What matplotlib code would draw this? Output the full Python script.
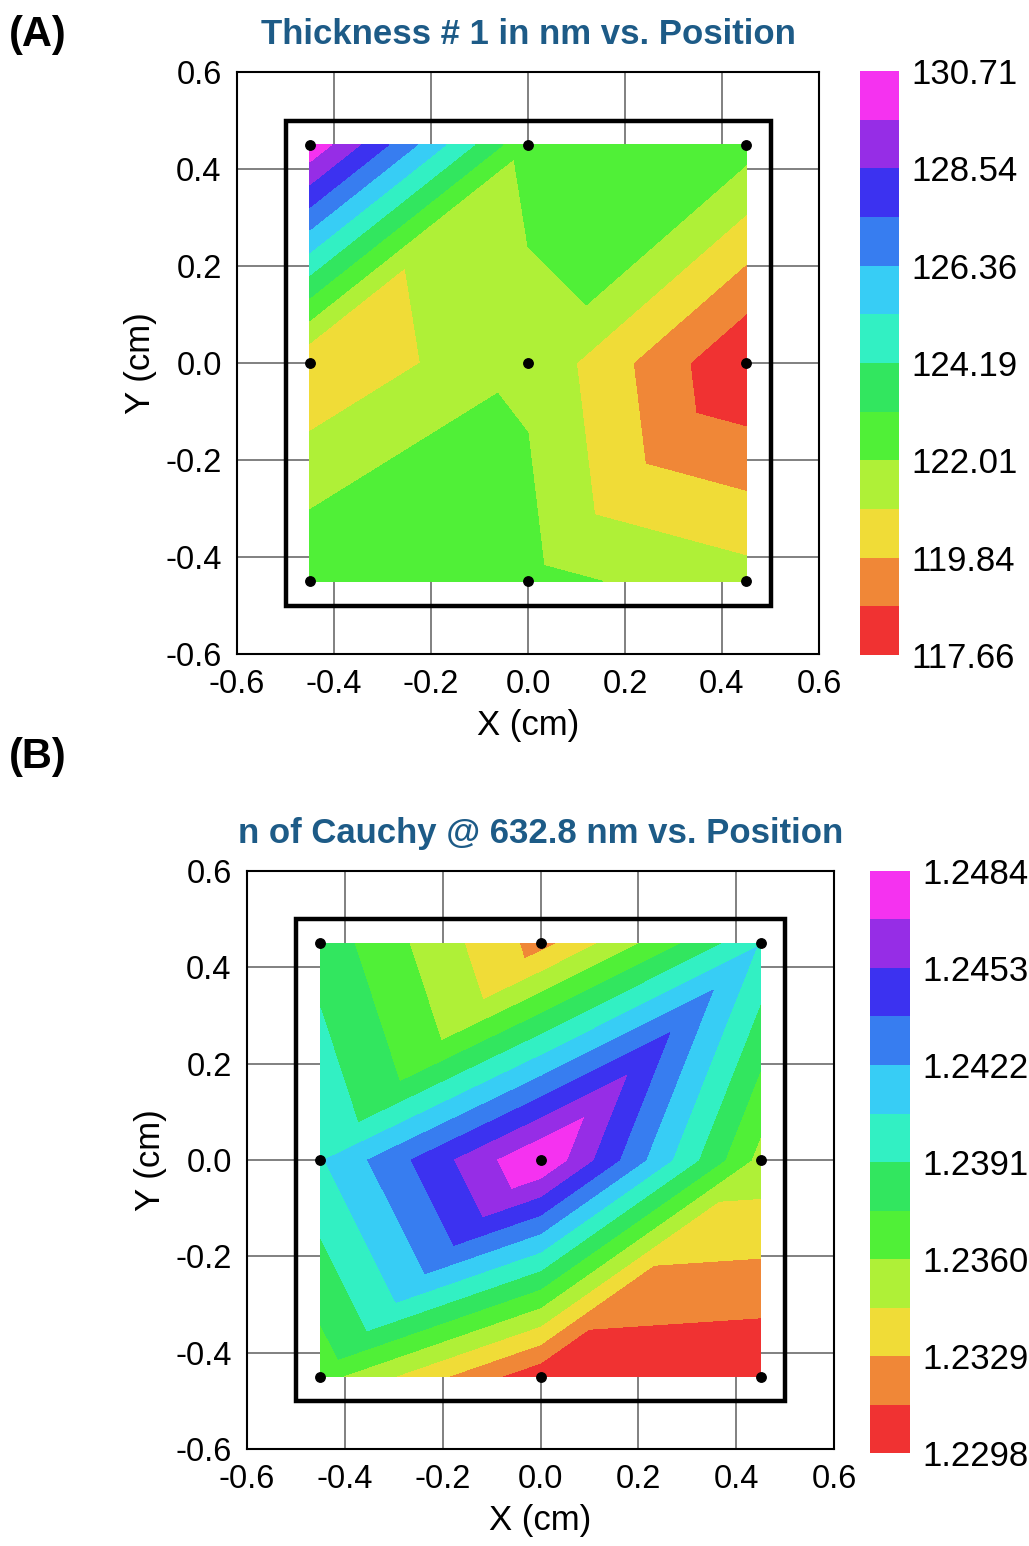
import numpy as np
import matplotlib
matplotlib.use('Agg')
import matplotlib.pyplot as plt
import matplotlib.tri as mtri
from matplotlib.colors import ListedColormap, BoundaryNorm
from matplotlib.patches import Rectangle

plt.rcParams['font.family'] = ['Liberation Sans', 'DejaVu Sans']

# measurement points (3x3 map), rows listed top to bottom
x_pts = [-0.45, 0.0, 0.45, -0.45, 0.0, 0.45, -0.45, 0.0, 0.45]
y_pts = [0.45, 0.45, 0.45, 0.0, 0.0, 0.0, -0.45, -0.45, -0.45]

# thickness #1 (nm) at each point
thickness = [130.45, 122.15, 122.45,
             119.97, 121.85, 117.67,
             123.00, 122.35, 121.35]

# n of Cauchy @ 632.8 nm at each point
n_cauchy = [1.2385, 1.2323, 1.2405,
            1.2405, 1.24838, 1.23545,
            1.2366, 1.2302, 1.22982]

thick_range = (117.66, 130.71)
thick_ticks = ['117.66', '119.84', '122.01', '124.19', '126.36', '128.54', '130.71']
n_range = (1.2298, 1.2484)
n_ticks = ['1.2298', '1.2329', '1.2360', '1.2391', '1.2422', '1.2453', '1.2484']

band_colors = ['#F03232', '#F08737', '#F0DC37', '#AFF037', '#50F037', '#32E65F',
               '#32F0C3', '#37CDF5', '#377DF0', '#3C32F0', '#962DE6', '#F532F0']

# triangulation of the 3x3 grid as used by the mapping software
triangles = [[0, 1, 3], [1, 4, 3], [1, 2, 4], [2, 5, 4],
             [3, 4, 6], [4, 7, 6], [4, 5, 7], [5, 8, 7]]

W, H = 1029, 1546
fig = plt.figure(figsize=(W / 100, H / 100), dpi=100)


def box(l, t, r, b):
    return [l / W, 1 - b / H, (r - l) / W, (b - t) / H]


def draw_map(ax_box, cax_box, z, zrange, tick_labels, title):
    ax = fig.add_axes(box(*ax_box))
    cax = fig.add_axes(box(*cax_box))
    levels = np.linspace(zrange[0], zrange[1], len(band_colors) + 1)
    cmap = ListedColormap(band_colors)
    norm = BoundaryNorm(levels, cmap.N)
    tri = mtri.Triangulation(x_pts, y_pts, triangles)
    cf = ax.tricontourf(tri, z, levels=levels, cmap=cmap, norm=norm, zorder=2)
    ax.add_patch(Rectangle((-0.5, -0.5), 1.0, 1.0, fill=False, lw=3.2,
                           edgecolor='black', zorder=4))
    ax.plot(x_pts, y_pts, 'o', color='black', ms=6.8, zorder=5)

    ticks = [-0.6, -0.4, -0.2, 0.0, 0.2, 0.4, 0.6]
    ax.set_xlim(-0.6, 0.6)
    ax.set_ylim(-0.6, 0.6)
    ax.set_xticks(ticks)
    ax.set_yticks(ticks)
    ax.set_xticklabels(['%.1f' % t for t in ticks])
    ax.set_yticklabels(['%.1f' % t for t in ticks])
    ax.tick_params(length=0, labelsize=23.5, pad=11)
    ax.grid(True, color='#808080', lw=1.4)
    ax.set_axisbelow(True)
    for s in ax.spines.values():
        s.set_linewidth(1.5)
    ax.set_xlabel('X (cm)', fontsize=25, labelpad=6)
    ax.set_ylabel('Y (cm)', fontsize=25, labelpad=6)
    ax.set_title(title, fontsize=25, fontweight='bold', color='#1d5b87', pad=20)

    cb = fig.colorbar(cf, cax=cax, ticks=levels[::2])
    cb.ax.minorticks_off()
    cb.ax.set_yticklabels(tick_labels)
    cb.ax.tick_params(which='both', length=0, labelsize=25, pad=9)
    cb.outline.set_visible(False)
    return ax


draw_map((237, 72, 819, 654), (860, 71, 899, 655), thickness, thick_range,
         thick_ticks, 'Thickness # 1 in nm vs. Position')
draw_map((247, 871, 834, 1449), (870, 871, 910, 1453), n_cauchy, n_range,
         n_ticks, 'n of Cauchy @ 632.8 nm vs. Position')

fig.text(9 / W, 1 - 35 / H, '(A)', fontsize=30, fontweight='bold', va='center', ha='left')
fig.text(9 / W, 1 - 757 / H, '(B)', fontsize=30, fontweight='bold', va='center', ha='left')

fig.savefig('out.png', dpi=100)
